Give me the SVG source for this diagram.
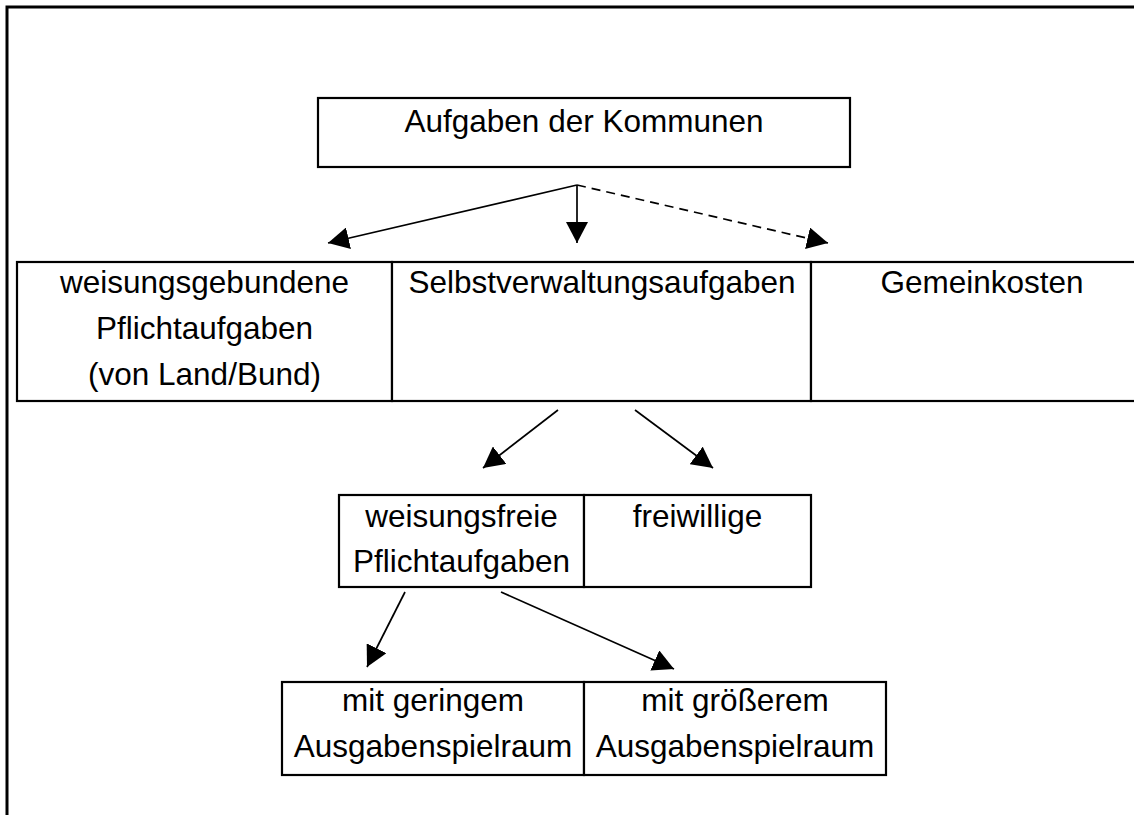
<svg xmlns="http://www.w3.org/2000/svg" width="1134" height="815" viewBox="0 0 1134 815">
<style>
.box{fill:#fff;stroke:#000;stroke-width:2.2}
.t{font-family:"Liberation Sans",Arial,sans-serif;font-size:31.5px;fill:#000;text-anchor:middle}
.c{fill:none;stroke:#000;stroke-width:1.7}
.d{stroke-dasharray:9,6}
</style>
<defs>
<marker id="ah" viewBox="0 0 21 22" refX="21" refY="11" markerWidth="21" markerHeight="22" markerUnits="userSpaceOnUse" orient="auto">
<path d="M0,0 L21,11 L0,22 Z" fill="#000"/>
</marker>
</defs>
<rect x="0" y="0" width="1134" height="815" fill="#fff"/>
<path d="M7,815 L7,7 L1134,7" fill="none" stroke="#000" stroke-width="3"/>

<g id="kommunen">
<rect class="box" x="318" y="98" width="532" height="69"/>
<text class="t" x="584" y="132">Aufgaben der Kommunen</text>
</g>

<g id="weisungsgebunden">
<rect class="box" x="17" y="262" width="375" height="139"/>
<text class="t" x="204.5" y="293">weisungsgebundene</text>
<text class="t" x="204.5" y="339">Pflichtaufgaben</text>
<text class="t" x="204.5" y="385">(von Land/Bund)</text>
</g>

<g id="selbstverwaltung">
<rect class="box" x="392" y="262" width="419" height="139"/>
<text class="t" x="602" y="293">Selbstverwaltungsaufgaben</text>
</g>

<g id="gemeinkosten">
<rect class="box" x="811" y="262" width="400" height="139"/>
<text class="t" x="982" y="293">Gemeinkosten</text>
</g>

<g id="weisungsfrei">
<rect class="box" x="339" y="495" width="245" height="92"/>
<text class="t" x="461.5" y="527">weisungsfreie</text>
<text class="t" x="461.5" y="572">Pflichtaufgaben</text>
</g>

<g id="freiwillige">
<rect class="box" x="584" y="495" width="227" height="92"/>
<text class="t" x="697.5" y="527">freiwillige</text>
</g>

<g id="gering">
<rect class="box" x="282" y="682" width="302" height="93"/>
<text class="t" x="433" y="711">mit geringem</text>
<text class="t" x="433" y="757">Ausgabenspielraum</text>
</g>

<g id="groesser">
<rect class="box" x="584" y="682" width="302" height="93"/>
<text class="t" x="735" y="711">mit größerem</text>
<text class="t" x="735" y="757">Ausgabenspielraum</text>
</g>

<g id="connectors">
<path class="c" d="M577,185 L328,243" marker-end="url(#ah)"/>
<path class="c" d="M577,185 L577,243" marker-end="url(#ah)"/>
<path class="c d" d="M577,185 L828,243" marker-end="url(#ah)"/>
<path class="c" d="M558,410 L483,468" marker-end="url(#ah)"/>
<path class="c" d="M635,410 L713,468" marker-end="url(#ah)"/>
<path class="c" d="M405,592 L367,667" marker-end="url(#ah)"/>
<path class="c" d="M501,592 L674,669" marker-end="url(#ah)"/>
</g>
</svg>
